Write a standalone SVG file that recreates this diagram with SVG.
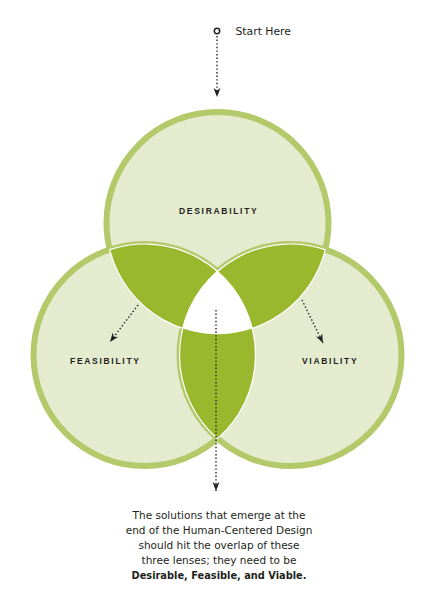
<svg xmlns="http://www.w3.org/2000/svg" width="435" height="609" viewBox="0 0 435 609">
<style>
.ring{fill:#e4ebcf;stroke:#b3c96a;stroke-width:6}
.lens{fill:#9ab82e;stroke:#ffffff;stroke-width:1.2}
.core{fill:#ffffff}
.dot{fill:none;stroke:#222;stroke-width:1.4;stroke-dasharray:1.4 2.2}
.lbl{font-family:"Liberation Sans",Arial,sans-serif;font-weight:bold;font-size:8.5px;letter-spacing:1.7px;fill:#231f20}
.body{font-family:"DejaVu Sans",Verdana,sans-serif;font-size:10.5px;fill:#231f20;text-anchor:middle}
</style>
<defs>
<marker id="ah" markerUnits="userSpaceOnUse" markerWidth="10" markerHeight="8" refX="9" refY="4" orient="auto">
<path d="M0,0.5 L9,4 L0,7.5 L2.5,4 Z" fill="#222"/>
</marker>
</defs>
<g id="desirability">
<circle class="ring" cx="217.5" cy="223" r="111"/>
</g>
<g id="feasibility">
<circle class="ring" cx="144.5" cy="355" r="111"/>
</g>
<g id="viability">
<circle class="ring" cx="290.5" cy="355" r="111"/>
</g>
<g id="overlaps">
<path class="lens" d="M109.73,249.58 A111,111 0 0 1 252.27,328.42 A111,111 0 0 1 109.73,249.58 Z"/>
<path class="lens" d="M325.27,249.58 A111,111 0 0 0 182.73,328.42 A111,111 0 0 0 325.27,249.58 Z"/>
<path class="lens" d="M217.5,271.4 A111,111 0 0 1 217.5,438.6 A111,111 0 0 1 217.5,271.4 Z"/>
<path class="core" d="M217.5,271.4 A111,111 0 0 1 252.27,328.42 A111,111 0 0 1 182.73,328.42 A111,111 0 0 1 217.5,271.4 Z"/>
</g>
<g id="connectors">
<circle cx="217" cy="31" r="2.7" fill="#fff" stroke="#222" stroke-width="1.5"/>
<line class="dot" x1="217" y1="36" x2="217" y2="97" marker-end="url(#ah)"/>
<line class="dot" x1="216" y1="310" x2="216" y2="491" marker-end="url(#ah)"/>
<line class="dot" x1="138" y1="305" x2="110" y2="342" marker-end="url(#ah)"/>
<line class="dot" x1="302" y1="300" x2="323" y2="343" marker-end="url(#ah)"/>
</g>
<g id="labels">
<text class="lbl" x="179" y="214">DESIRABILITY</text>
<text class="lbl" x="70" y="364">FEASIBILITY</text>
<text class="lbl" x="302" y="364">VIABILITY</text>
<text x="235.5" y="35" font-family="DejaVu Sans,Verdana,sans-serif" font-size="10.8" fill="#231f20">Start Here</text>
</g>
<g id="caption">
<text class="body" x="219" y="519">The solutions that emerge at the</text>
<text class="body" x="219" y="534">end of the Human-Centered Design</text>
<text class="body" x="219" y="549">should hit the overlap of these</text>
<text class="body" x="219" y="563.5">three lenses; they need to be</text>
<text class="body" x="219" y="578.5" font-weight="bold" textLength="175" lengthAdjust="spacingAndGlyphs">Desirable, Feasible, and Viable.</text>
</g>
</svg>
